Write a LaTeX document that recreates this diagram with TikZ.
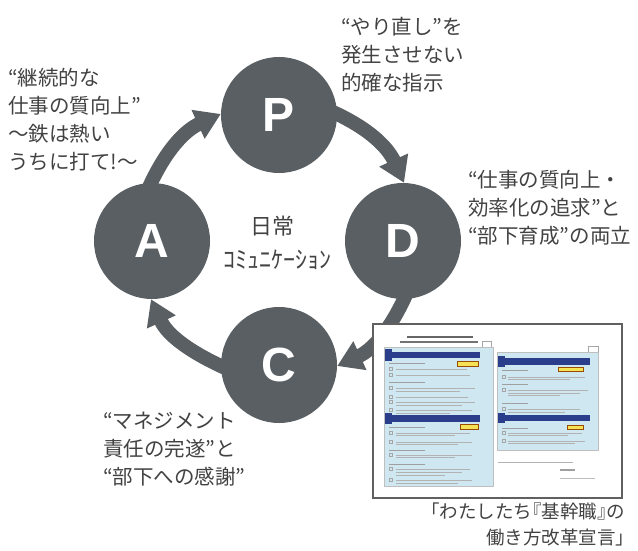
\documentclass[tikz,border=0pt]{standalone}
\usepackage{fontspec}
\setmainfont{Noto Sans CJK JP}
\newfontfamily\letterfont{Liberation Sans}
\newfontfamily\captionfont{Noto Sans CJK JP}[RawFeature=+halt]
\usetikzlibrary{arrows.meta,backgrounds}
\definecolor{cyclegray}{RGB}{90,95,99}
\definecolor{labelgray}{RGB}{66,66,66}
\definecolor{pageblue}{RGB}{206,231,241}
\definecolor{barnavy}{RGB}{42,62,140}
\definecolor{tagyellow}{RGB}{246,226,86}

\begin{document}
\begin{tikzpicture}[x=1pt, y=1pt,
  phase/.style={circle, fill=cyclegray, minimum size=116pt, inner sep=0pt, text=white,
    font=\letterfont\bfseries\fontsize{48}{48}\selectfont},
  cyclearrow/.style={cyclegray, line width=14pt, shorten <=-5pt, -{Triangle[width=30pt,length=25pt]}},
  note/.style={align=left, text=labelgray, inner sep=0pt, font=\fontsize{20.5}{28}\selectfont},
  txtline/.style={gray!60, line width=1pt},
  boxmark/.style={draw=gray!70, line width=0.5pt},
  navybar/.style={fill=barnavy},
  tag/.style={fill=tagyellow, draw=orange!60!black, line width=0.4pt}]
\useasboundingbox (0,0) rectangle (638,-551);

% PDCA circles
\node[phase] (P) at (279,-115) {P};
\node[phase] (D) at (403,-241) {D};
\node[phase] (C) at (279,-365) {C};
\node[phase] (A) at (152,-241) {A};

% Cycle arrows
\begin{scope}[on background layer]
\draw[cyclearrow] (A.91) to[out=65.5, in=204.5] (P.179);
\draw[cyclearrow] (P.1) to[out=-24.5, in=114.5] (D.89);
\draw[cyclearrow] (D.-89) to[out=-114.5, in=24.5] (C.-1);
\draw[cyclearrow] (C.-179) to[out=155.5, in=-65.5] (A.-91);
\end{scope}

% Centre text
\node[text=labelgray, font=\fontsize{22}{22}\selectfont] (daily) at (272,-226) {日常};
\node[text=labelgray, font=\fontsize{24}{24}\selectfont] (comm) at (277,-260) {ｺﾐｭﾆｹｰｼｮﾝ};

% Notes
\node[note, anchor=north west] (noteA) at (8,-68) {“継続的な\\仕事の質向上”\\～鉄は熱い\\うちに打て!～};
\node[note, anchor=north west] (noteP) at (341,-17) {“やり直し”を\\発生させない\\的確な指示};
\node[note, anchor=north west] (noteD) at (468,-170) {“仕事の質向上・\\効率化の追求”と\\“部下育成”の両立};
\node[note, anchor=north west] (noteC) at (103,-412) {“マネジメント\\責任の完遂”と\\“部下への感謝”};

% Declaration sheet
\filldraw[fill=white, draw=gray!75!black, line width=1.5pt] (373,-324) rectangle (622,-498);

% left sheet
\draw[txtline, gray!80!black, line width=1.5pt] (407,-337) -- (473,-337);
\draw[txtline, gray!90!black, line width=2pt] (400,-341.5) -- (478,-341.5);
\draw[boxmark] (482,-341) rectangle (491,-347);
\filldraw[fill=pageblue, draw=gray!50] (384,-347) rectangle (493,-486);
\fill[navybar] (386,-352) rectangle (480,-358);
\fill[navybar] (385,-349) rectangle (392,-361);
\filldraw[tag] (457,-361) rectangle (478,-366);
\fill[navybar] (386,-415) rectangle (480,-422);
\fill[navybar] (385,-413) rectangle (392,-424);
\filldraw[tag] (460,-424) rectangle (478,-429);
\foreach \y in {363,382,427,450,464}
  \draw[txtline, gray!75] (389,-\y) -- (425,-\y);
\foreach \y/\e in {369/467,375/470,388/475,397/468,402/475,410/472,433/470,442/472,455/472,469/470,480/472} {
  \draw[boxmark] (389,-\y+1.5) rectangle +(3,-3);
  \draw[txtline] (396,-\y) -- (\e,-\y);
}
\foreach \y/\e in {391/460,405/462,413/450,435/455,444/458,457/455,472/462,475/445,483/458}
  \draw[txtline] (396,-\y) -- (\e,-\y);

% right sheet
\draw[boxmark] (588,-346) rectangle (598,-352);
\filldraw[fill=pageblue, draw=gray!50] (497,-352) rectangle (598,-450);
\fill[navybar] (499,-358) rectangle (590,-365);
\fill[navybar] (498,-356) rectangle (505,-367);
\filldraw[tag] (558,-367) rectangle (583,-371);
\fill[navybar] (499,-415) rectangle (590,-421);
\fill[navybar] (498,-413) rectangle (505,-423);
\filldraw[tag] (567,-425) rectangle (583,-429);
\foreach \y in {370,384,403,428}
  \draw[txtline, gray!75] (502,-\y) -- (528,-\y);
\foreach \y/\e in {377/585,390/588,409/580,433/582,441/585} {
  \draw[boxmark] (502,-\y+1.5) rectangle +(3,-3);
  \draw[txtline] (508,-\y) -- (\e,-\y);
}
\foreach \y/\e in {379/570,393/580,395/560,412/565,435/568,443/575}
  \draw[txtline] (508,-\y) -- (\e,-\y);
\draw[txtline] (498,-462) -- (573,-462);
\draw[txtline, gray!75, line width=1.3pt] (560,-470) -- (575,-470);
\draw[txtline, gray!50, line width=0.8pt] (560,-478) -- (595,-478);

% Caption
\node[note, align=right, anchor=north east, font=\captionfont\fontsize{18.5}{26}\selectfont] (caption) at (625,-503) {「わたしたち『基幹職』の\\働き方改革宣言」};
\end{tikzpicture}
\end{document}
